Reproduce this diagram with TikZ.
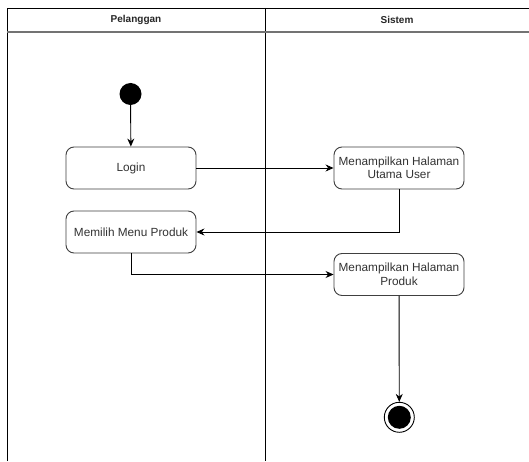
\documentclass[tikz,border=0pt]{standalone}
\usepackage{fontspec}
\setmainfont{Liberation Sans}
\usetikzlibrary{arrows.meta}
\begin{document}
\begin{tikzpicture}[x=1pt,y=-1pt,
  act/.style={draw=black!75,line width=0.9pt,rounded corners=8pt,minimum width=130pt,minimum height=42pt,inner sep=1pt,align=center,font=\fontsize{11.8}{13.5}\selectfont,text=black!80},
  flow/.style={draw=black,line width=0.9pt,-{Stealth[length=8pt,width=7pt]}},
  lane/.style={draw=black,line width=0.9pt},
  hdr/.style={font=\fontsize{10}{12}\selectfont\bfseries,text=black!85}]
\useasboundingbox (0,0) rectangle (529,462);
\fill[white] (0,0) rectangle (529,462);
% swimlane frame
\draw[lane] (7,461) -- (7,8) -- (529,8);
\draw[lane] (265,8) -- (265,461);
\draw[draw=black!55,line width=2pt] (7,32.5) -- (529,32.5);
\node[hdr] (h1) at (136,20) {Pelanggan};
\node[hdr] (h2) at (397,20) {Sistem};
% nodes
\node[circle,fill=black,minimum size=22pt,inner sep=0pt] (start) at (130.5,94) {};
\node[act] (login) at (131,168) {Login};
\node[act] (menu) at (131,232) {Memilih Menu Produk};
\node[act] (utama) at (399,168) {Menampilkan Halaman\\Utama User};
\node[act] (produk) at (399,274.5) {Menampilkan Halaman\\Produk};
\node[circle,draw=black,line width=0.9pt,minimum size=30pt,inner sep=0pt] (end) at (399.3,417.3) {};
\node[circle,fill=black,minimum size=23pt,inner sep=0pt] (endin) at (399.3,417.3) {};
% connectors
\draw[flow] (start) -- (login);
\draw[flow] (login) -- (utama);
\draw[flow] (utama.south) |- (menu.east);
\draw[flow] (menu.south) |- (produk.west);
\draw[flow] (produk) -- (end);
\end{tikzpicture}
\end{document}
